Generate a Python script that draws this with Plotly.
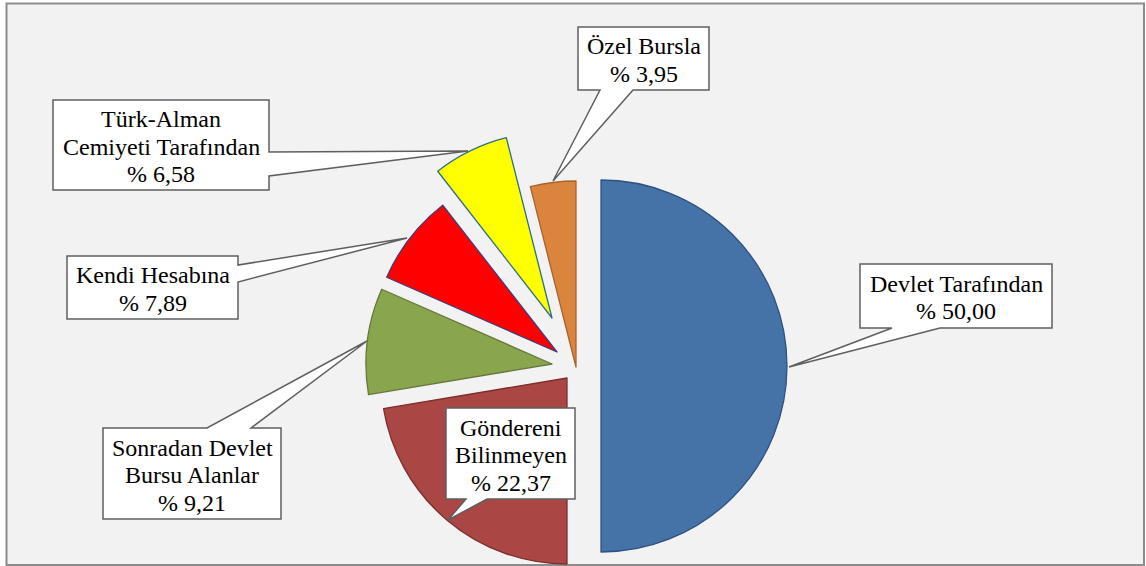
"""
Burs kaynaklarına göre öğrenci dağılımı - patlatılmış pasta grafik.
"""
import plotly.graph_objects as go

W, H = 1146, 566

# Veri
kategoriler = ['Devlet Tarafından', 'Göndereni Bilinmeyen', 'Sonradan Devlet Bursu Alanlar',
               'Kendi Hesabına', 'Türk-Alman Cemiyeti Tarafından', 'Özel Bursla']
etiket_satirlari = [['Devlet Tarafından'], ['Göndereni', 'Bilinmeyen'], ['Sonradan Devlet', 'Bursu Alanlar'],
                    ['Kendi Hesabına'], ['Türk-Alman', 'Cemiyeti Tarafından'], ['Özel Bursla']]
yuzdeler = [50.00, 22.37, 9.21, 7.89, 6.58, 3.95]
renkler = ['#4572A7', '#AA4643', '#89A54E', '#FF0000', '#FFFF00', '#DB843D']
kenar_renkleri = ['#2F5280', '#7B2F2D', '#66793A', '#403C78', '#2E6E8A', '#A8642B']

# Dilimlerin tepe noktaları (piksel) ve yarıçap
tepe = [(601, 366), (567, 378), (552, 364), (557, 352), (552, 318), (576, 367)]
R = 186

# Etiket kutuları: (x0, y0, x1, y1), işaretçi kenarı, taban1, taban2, uç
kutular = [
    ((860, 264, 1052, 328), 'bottom', 892, 940, (789, 367)),
    ((446, 408, 575, 499), 'bottom', 466, 487, (448, 520)),
    ((103, 428, 281, 519), 'top', 207, 251, (367, 341)),
    ((67, 256, 238, 319), 'right', 265, 282, (407, 238)),
    ((53, 100, 269, 190), 'right', 152, 176, (468, 151)),
    ((578, 27, 709, 90), 'bottom', 600, 633, (553, 181)),
]

FONT = 'Liberation Serif, Times New Roman, DejaVu Serif, serif'
SATIR = 27.5


def callout_path(box, side, b1, b2, tip):
    x0, y0, x1, y1 = box
    tx, ty = tip
    if side == 'bottom':
        pts = [(x0, y0), (x1, y0), (x1, y1), (b2, y1), (tx, ty), (b1, y1), (x0, y1)]
    elif side == 'top':
        pts = [(x0, y0), (b1, y0), (tx, ty), (b2, y0), (x1, y0), (x1, y1), (x0, y1)]
    else:  # right
        pts = [(x0, y0), (x1, y0), (x1, b1), (tx, ty), (x1, b2), (x1, y1), (x0, y1)]
    return 'M ' + ' L '.join(f'{x},{y}' for x, y in pts) + ' Z'


fig = go.Figure()

toplam = sum(yuzdeler)
baslangic = 0.0
for i, v in enumerate(yuzdeler):
    ax, ay = tepe[i]
    fig.add_trace(go.Pie(
        values=[v, toplam - v],
        labels=[kategoriler[i], ''],
        sort=False,
        direction='clockwise',
        rotation=baslangic / toplam * 360,
        marker=dict(colors=[renkler[i], 'rgba(0,0,0,0)'],
                    line=dict(color=[kenar_renkleri[i], 'rgba(0,0,0,0)'], width=[1.3, 0])),
        textinfo='none',
        hoverinfo='skip',
        showlegend=False,
        domain=dict(x=[(ax - R) / W, (ax + R) / W], y=[1 - (ay + R) / H, 1 - (ay - R) / H]),
    ))
    baslangic += v

shapes = [dict(type='rect', xref='x', yref='y', x0=6.5, y0=3.5, x1=1144, y1=565,
               fillcolor='#F2F2F2', line=dict(color='#8C8C8C', width=2), layer='below')]
annotations = []
for i, (box, side, b1, b2, tip) in enumerate(kutular):
    shapes.append(dict(type='path', xref='x', yref='y', path=callout_path(box, side, b1, b2, tip),
                       fillcolor='white', line=dict(color='#5F5F5F', width=1.5), layer='above'))
    satirlar = etiket_satirlari[i] + ['% ' + f'{yuzdeler[i]:.2f}'.replace('.', ',')]
    n = len(satirlar)
    cx, cy = (box[0] + box[2]) / 2, (box[1] + box[3]) / 2 + 1.5
    for k, s in enumerate(satirlar):
        annotations.append(dict(x=cx, y=cy + (k - (n - 1) / 2) * SATIR, xref='x', yref='y',
                                text=s, showarrow=False, align='center', yanchor='middle',
                                font=dict(family=FONT, size=24, color='black')))

fig.update_layout(
    width=W, height=H,
    margin=dict(l=0, r=0, t=0, b=0),
    paper_bgcolor='white',
    plot_bgcolor='rgba(0,0,0,0)',
    xaxis=dict(range=[0, W], visible=False, fixedrange=True),
    yaxis=dict(range=[H, 0], visible=False, fixedrange=True),
    shapes=shapes,
    annotations=annotations,
)

# sayfa kenar boşluğunu kaldır, grafik pencereye tam otursun
fig.write_html("out.html", config={'displayModeBar': False},
               post_script="document.body.style.margin='0';")
